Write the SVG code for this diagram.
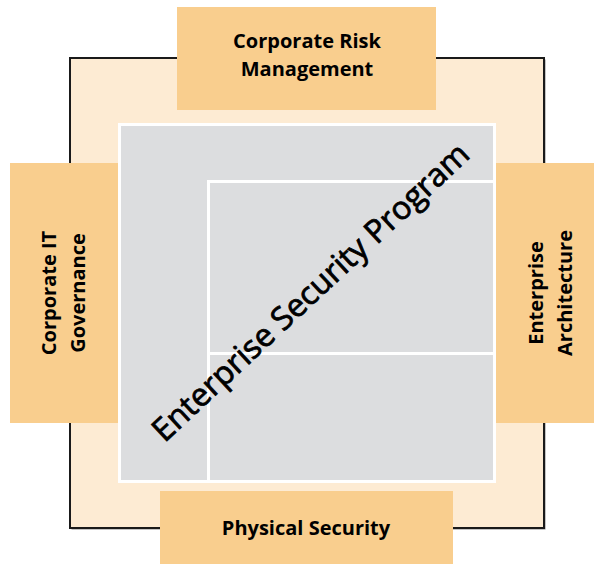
<svg xmlns="http://www.w3.org/2000/svg" width="594" height="564" viewBox="0 0 594 564">
<style>
.box{fill:#F9CE8E}
.lbl{font-family:"Open Sans","Liberation Sans",sans-serif;font-weight:bold;font-size:20px;fill:#000;text-anchor:middle}
.title{font-family:"Open Sans","Liberation Sans",sans-serif;font-weight:normal;font-size:32px;fill:#000;stroke:#000;stroke-width:0.8;text-anchor:middle}
.wl{stroke:#fff;stroke-width:3;fill:none}
</style>
<rect width="594" height="564" fill="#fff"/>
<g id="frame">
<rect x="71.5" y="59.5" width="474" height="470" fill="#8a8a8a"/>
<rect x="70" y="58" width="474" height="470" fill="#FDEBD3" stroke="#1a1a1a" stroke-width="2"/>
</g>
<g id="corporate-risk-management">
<rect class="box" x="177" y="7" width="259" height="103"/>
<text class="lbl" x="307" y="48">Corporate Risk</text>
<text class="lbl" x="307" y="76">Management</text>
</g>
<g id="corporate-it-governance">
<rect class="box" x="10" y="163" width="108" height="260"/>
<text class="lbl" transform="translate(56,293) rotate(-90)">Corporate IT</text>
<text class="lbl" transform="translate(85,293) rotate(-90)">Governance</text>
</g>
<g id="enterprise-architecture">
<rect class="box" x="496" y="163" width="98" height="260"/>
<text class="lbl" transform="translate(543,293) rotate(-90)">Enterprise</text>
<text class="lbl" transform="translate(572,293) rotate(-90)">Architecture</text>
</g>
<g id="physical-security">
<rect class="box" x="160" y="491" width="293" height="73"/>
<text class="lbl" x="306" y="535">Physical Security</text>
</g>
<g id="enterprise-security-program">
<rect x="119.5" y="124.5" width="375" height="357" fill="#DCDDDF" stroke="#fff" stroke-width="3"/>
<path class="wl" d="M208.5 482V181.5H495M208.5 353.5H495"/>
<text class="title" transform="translate(318,300) rotate(-43)" textLength="420" lengthAdjust="spacingAndGlyphs">Enterprise Security Program</text>
</g>
<g id="connectors"></g>
</svg>
